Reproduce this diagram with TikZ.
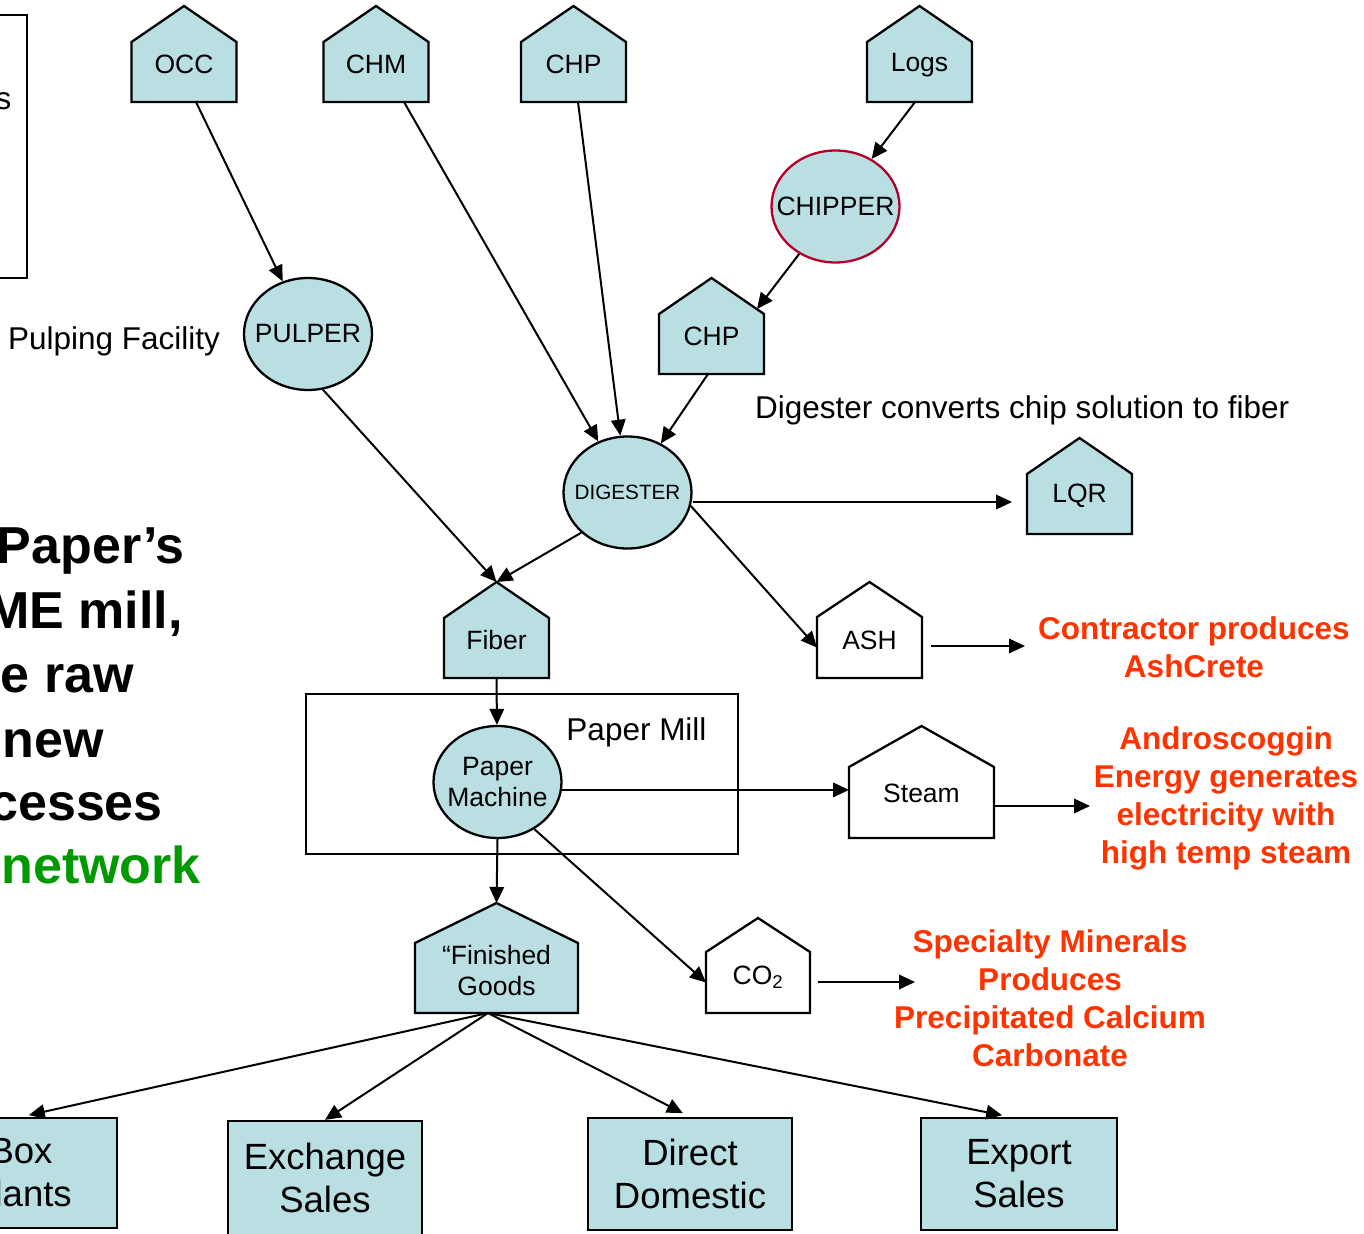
\documentclass[tikz,border=0pt]{standalone}
\usepackage{fontspec}
\setmainfont{Liberation Sans}
\usetikzlibrary{arrows.meta,shapes.geometric,calc}
\definecolor{lblue}{RGB}{185,223,227}
\definecolor{redtxt}{RGB}{255,51,0}
\definecolor{grn}{RGB}{0,153,0}
\definecolor{crim}{RGB}{178,0,40}
\newcommand\fsz[2]{\fontsize{#1}{#2}\selectfont}
% name, cx, apex y, shoulder y, bottom y, half width, fill, label yshift, label
\newcommand\housenode[9]{%
  \filldraw[houseline,fill=#7] ({#2-#6},#5) -- ({#2-#6},#4) -- (#2,#3) -- ({#2+#6},#4) -- ({#2+#6},#5) -- cycle;
  \node[hbody,minimum width={2*#6},minimum height={#5-#4},label={[hlabel,yshift=#8pt]center:{#9}}] (#1) at (#2,{(#4+#5)/2}) {};
  \coordinate (#1-top) at (#2,#3);
}
\tikzset{
  houseline/.style={line width=2.3pt,line join=miter},
  hbody/.style={rectangle,inner sep=0pt,outer sep=0pt},
  hlabel/.style={inner sep=0pt,align=center,font=\fsz{26.5}{31}},
  ell/.style={ellipse,draw,line width=2.3pt,fill=lblue,minimum width=128pt,minimum height=112pt,inner sep=0pt},
  endbox/.style={rectangle,draw,line width=2.3pt,fill=lblue,inner sep=0pt,align=center,font=\fsz{36.5}{43}},
  plainbox/.style={rectangle,draw,line width=2.3pt,inner sep=0pt},
  arr/.style={line width=2pt,-{Triangle[length=16pt,width=14.5pt]}},
  freetxt/.style={inner sep=0pt,font=\fsz{31.5}{37}},
  redbold/.style={inner sep=0pt,align=center,text=redtxt,font=\bfseries\fsz{31.5}{38}},
  bigtxt/.style={inner sep=0pt,font=\bfseries\fsz{52}{64}},
}
\begin{document}
\begin{tikzpicture}[x=1pt,y=-1pt]
\useasboundingbox (0,0) rectangle (1364,1233);
\clip (0,0) rectangle (1364,1233);

% frames
\node[plainbox,minimum width=37pt,minimum height=263pt] (leftbox) at (8.5,146.5) {};
\node[freetxt,anchor=base east] (stxt) at (11.5,110) {s};
\node[plainbox,minimum width=432pt,minimum height=160pt] (millbox) at (522,774) {};
\node[freetxt,anchor=base] (milltxt) at (636.5,740) {Paper Mill};

% houses
\housenode{occ}{184}{6}{42}{102}{52.5}{lblue}{8}{OCC}
\housenode{chm}{376}{6}{42}{102}{52.5}{lblue}{8}{CHM}
\housenode{chpa}{573.5}{6}{42}{102}{52.5}{lblue}{8}{CHP}
\housenode{logs}{919.5}{6}{42}{102}{52.5}{lblue}{7}{Logs}
\housenode{chpb}{711.5}{278}{314}{374}{52.5}{lblue}{8}{CHP}
\housenode{lqr}{1079.5}{438}{474}{534}{52.5}{lblue}{8}{LQR}
\housenode{fiber}{496.5}{582}{618}{678}{52.5}{lblue}{8}{Fiber}
\housenode{ash}{869.5}{582}{617}{678}{52.5}{white}{7.5}{ASH}
\housenode{steam}{921.5}{726}{767}{838}{72.5}{white}{9.5}{Steam}
\housenode{fg}{496.5}{903}{943}{1013}{81.5}{lblue}{7}{“Finished\\Goods}
\housenode{co2}{758}{918}{952}{1013}{52}{white}{5.5}{CO\textsubscript{2}}

% ellipses
\node[ell,draw=crim,label={[hlabel]center:CHIPPER}] (chipper) at (835.5,206.5) {};
\node[ell,label={[hlabel]center:PULPER}] (pulper) at (308,334) {};
\node[ell,label={[hlabel,font=\fsz{20.7}{25}]center:DIGESTER}] (dig) at (627.5,492.5) {};
\node[ell,label={[hlabel]center:Paper\\Machine}] (pm) at (497.5,782) {};

% free texts
\node[freetxt,anchor=west] (pulptxt) at (8,341) {Pulping Facility};
\node[freetxt,anchor=west] (digtxt) at (755,410) {Digester converts chip solution to fiber};

% red texts
\node[redbold] (ashtxt) at (1194,647) {Contractor produces\\AshCrete};
\node[redbold] (steamtxt) at (1226,798) {Androscoggin\\Energy generates\\electricity with\\high temp steam};
\node[redbold] (co2txt) at (1050,998) {Specialty Minerals\\Produces\\Precipitated Calcium\\Carbonate};

% big left text (cut off at the edge)
\node[bigtxt,anchor=base east] (b1) at (185,563) {Paper’s};
\node[bigtxt,anchor=base east] (b2) at (183,628) {ME mill,};
\node[bigtxt,anchor=base east] (b3) at (134,692) {e raw};
\node[bigtxt,anchor=base east] (b4) at (104,757) {new};
\node[bigtxt,anchor=base east] (b5) at (163,820) {cesses};
\node[bigtxt,anchor=base east,text=grn] (b6) at (201,883) {network};

% end boxes
\node[endbox,minimum width=192pt,minimum height=110pt] (boxp) at (21,1173) {Box\\Plants};
\node[endbox,minimum width=194pt,minimum height=114pt] (exch) at (325,1178) {Exchange\\Sales};
\node[endbox,minimum width=204pt,minimum height=112pt] (direct) at (690,1174) {Direct\\Domestic};
\node[endbox,minimum width=196pt,minimum height=112pt] (export) at (1019,1174) {Export\\Sales};

% free arrow ends
\coordinate (chpbin) at (757,309);
\coordinate (ashend) at (1025,646);
\coordinate (steamend) at (1090,806);
\coordinate (co2end) at (915,982);
\coordinate (lqrend) at (1012,502);
\coordinate (fgout) at ($(fg.south)+(-8.5,0)$);

% connectors
\draw[arr] ($(occ.south)+(12,0)$) -- (pulper);
\draw[arr] ($(chm.south)+(28,0)$) -- (dig);
\draw[arr] ($(chpa.south)+(4.5,0)$) -- (dig);
\draw[arr] ($(logs.south)+(-4.5,0)$) -- (chipper);
\draw[arr] (chipper) -- (chpbin);
\draw[arr] ($(chpb.south)+(-3.5,0)$) -- (dig);
\draw[arr] (pulper.-75) -- (fiber-top);
\draw[arr] (dig.-139) -- (fiber-top);
\draw[arr] (dig.east |- lqrend) -- (lqrend);
\draw[arr] (dig.-12) -- (ash.west);
\draw[arr,shorten <=9pt] (ash.east |- ashend) -- (ashend);
\draw[arr] (fiber.south) -- (pm);
\draw[arr] (pm.-7) -- (pm.-7 -| steam.west);
\draw[arr,shorten <=1pt] (steam.east |- steamend) -- (steamend);
\draw[arr] (pm.south) -- (fg-top);
\draw[arr] (pm.-52) -- (co2.west);
\draw[arr,shorten <=8pt] (co2.east |- co2end) -- (co2end);
\draw[arr,shorten >=8pt] (fgout) -- (boxp.north);
\draw[arr] (fgout) -- (exch.north);
\draw[arr,shorten >=8pt] (fgout) -- (direct.north);
\draw[arr,shorten >=8pt] (fgout) -- ($(export.north)+(-9,0)$);
\end{tikzpicture}
\end{document}
